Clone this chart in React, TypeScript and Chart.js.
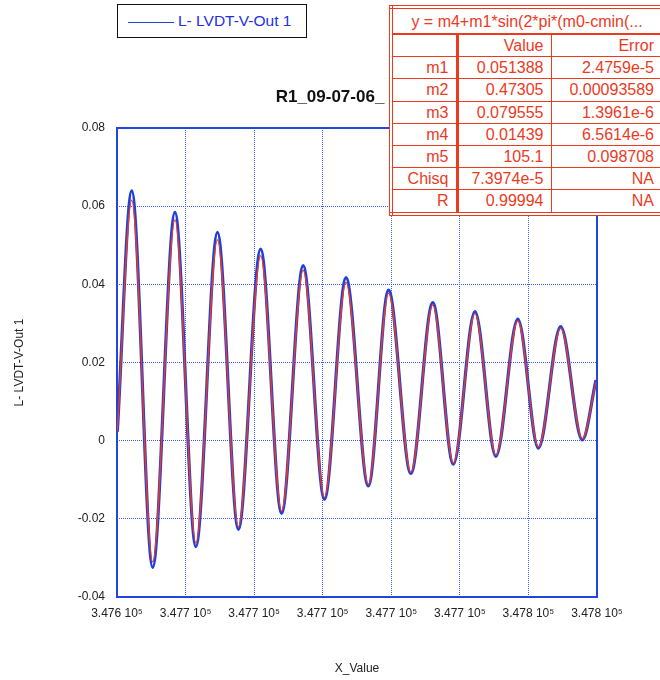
import React, { useEffect, useRef } from 'react';
import { Chart, registerables } from 'chart.js';

Chart.register(...registerables);

const FONT = '"Liberation Sans", Arial, Helvetica, sans-serif';

// ---- data ----
const TITLE = 'R1_09-07-06_';
const SERIES_NAME = 'L- LVDT-V-Out 1';
const X_TITLE = 'X_Value';
const Y_TITLE = 'L- LVDT-V-Out 1';

const X_TICKS = [347632, 347652, 347672, 347692, 347712, 347732, 347752, 347772];
const X_TICK_LABELS = ['3.476 10⁵', '3.477 10⁵', '3.477 10⁵', '3.477 10⁵', '3.477 10⁵', '3.477 10⁵', '3.478 10⁵', '3.478 10⁵'];
const Y_MIN = -0.04;
const Y_MAX = 0.08;
const Y_STEP = 0.02;

const DATA_X = [347632.1, 347636.3, 347642.4, 347648.9, 347655.0, 347661.3, 347667.4, 347673.9, 347680.0, 347686.3, 347692.5, 347698.8, 347705.3, 347711.2, 347717.7, 347724.1, 347730.1, 347736.4, 347742.5, 347748.9, 347754.9, 347761.4, 347767.7, 347771.7];
const DATA_Y = [0.0023, 0.0639, -0.0324, 0.0584, -0.0271, 0.0533, -0.0227, 0.049, -0.0186, 0.0448, -0.015, 0.0417, -0.0116, 0.0385, -0.0084, 0.0353, -0.006, 0.033, -0.004, 0.0311, -0.0019, 0.0292, 0.0002, 0.0155];
const FIT_Y = [0.0025, 0.0615, -0.031, 0.0565, -0.0262, 0.0514, -0.022, 0.0473, -0.018, 0.0436, -0.0145, 0.0405, -0.0112, 0.0377, -0.0081, 0.0347, -0.0057, 0.0325, -0.0037, 0.0306, -0.0016, 0.0288, 0.0005, 0.015];

const FORMULA = 'y = m4+m1*sin(2*pi*(m0-cmin(...';
const PARAM_NAMES = ['m1', 'm2', 'm3', 'm4', 'm5', 'Chisq', 'R'];
const PARAM_VALUES = ['0.051388', '0.47305', '0.079555', '0.01439', '105.1', '7.3974e-5', '0.99994'];
const PARAM_ERRORS = ['2.4759e-5', '0.00093589', '1.3961e-6', '6.5614e-6', '0.098708', 'NA', 'NA'];

const BLUE = '#1f3fe0';
const RED = '#ee3a1c';
const TABLE_RED = '#ec3a1e';
const GRID = '#3a5ae8';

const framePlugin = {
  id: 'frame',
  beforeDatasetsDraw(chart: any) {
    const { ctx, chartArea: a } = chart;
    ctx.save();
    ctx.strokeStyle = '#2444e2';
    ctx.lineWidth = 2;
    ctx.strokeRect(a.left, a.top, a.right - a.left, a.bottom - a.top);
    ctx.restore();
  },
};

export default function App() {
  const canvasRef = useRef<HTMLCanvasElement | null>(null);

  useEffect(() => {
    document.body.style.margin = '0';
    const canvas = canvasRef.current;
    if (!canvas) return;
    const chart = new Chart(canvas, {
      type: 'line',
      data: {
        datasets: [
          {
            label: SERIES_NAME,
            data: DATA_X.map((x, i) => ({ x, y: DATA_Y[i] })),
            borderColor: BLUE,
            borderWidth: 3.2,
            pointRadius: 0,
            cubicInterpolationMode: 'monotone',
            fill: false,
            order: 2,
          },
          {
            label: 'fit',
            data: DATA_X.map((x, i) => ({ x, y: FIT_Y[i] })),
            borderColor: RED,
            borderWidth: 1.4,
            pointRadius: 0,
            cubicInterpolationMode: 'monotone',
            fill: false,
            order: 1,
          },
        ],
      },
      options: {
        animation: false,
        responsive: true,
        maintainAspectRatio: false,
        layout: { padding: 0 },
        plugins: {
          legend: { display: false },
          tooltip: { enabled: false },
          title: {
            display: true,
            text: TITLE,
            color: '#111',
            font: { family: FONT, size: 17, weight: 'bold', lineHeight: 1.2 },
            padding: { top: 87, bottom: 20.6 },
          },
        },
        scales: {
          x: {
            type: 'linear',
            min: X_TICKS[0],
            max: X_TICKS[X_TICKS.length - 1],
            afterBuildTicks: (axis: any) => {
              axis.ticks = X_TICKS.map((v) => ({ value: v }));
            },
            afterFit: (s: any) => {
              s.height = 83;
            },
            grid: { color: GRID, lineWidth: 1, drawTicks: false },
            border: { display: false, dash: [1, 1] },
            ticks: {
              padding: 9,
              color: '#222',
              font: { family: FONT, size: 12 },
              maxRotation: 0,
              autoSkip: false,
              callback: (_v: any, i: number) => X_TICK_LABELS[i],
            },
            title: {
              display: true,
              text: X_TITLE,
              color: '#222',
              font: { family: FONT, size: 12 },
              padding: { top: 0, bottom: 4 },
            },
          },
          y: {
            type: 'linear',
            position: 'left',
            min: Y_MIN,
            max: Y_MAX,
            afterFit: (s: any) => {
              s.width = 117;
            },
            grid: { color: GRID, lineWidth: 1, drawTicks: false },
            border: { display: false, dash: [1, 1] },
            ticks: {
              stepSize: Y_STEP,
              padding: 12,
              color: '#222',
              font: { family: FONT, size: 12 },
              callback: (v: any) => String(+Number(v).toFixed(2)),
            },
            title: {
              display: true,
              text: Y_TITLE,
              color: '#222',
              font: { family: FONT, size: 12 },
              padding: { top: 12, bottom: 0 },
            },
          },
          yRight: {
            type: 'linear',
            position: 'right',
            min: Y_MIN,
            max: Y_MAX,
            afterFit: (s: any) => {
              s.width = 63;
            },
            grid: { display: false, drawOnChartArea: false, drawTicks: false },
            border: { display: false },
            ticks: { display: false },
          },
        },
      },
      plugins: [framePlugin],
    } as any);
    return () => chart.destroy();
  }, []);

  const cell: React.CSSProperties = {
    border: `1.5px solid ${TABLE_RED}`,
    textAlign: 'right',
    padding: '0 7px 0 0',
    height: 21.2,
    lineHeight: '19px',
    whiteSpace: 'nowrap',
    overflow: 'hidden',
  };

  return (
    <div style={{ position: 'relative', width: 660, height: 680, overflow: 'hidden', background: '#fff' }}>
      <canvas ref={canvasRef} style={{ position: 'absolute', left: 0, top: 0 }} />
      <div style={{ position: 'absolute', left: 0, top: 0, width: 660, height: 680, pointerEvents: 'none' }}>
        {/* legend */}
        <div
          style={{
            position: 'absolute',
            left: 117,
            top: 4,
            width: 188,
            height: 32,
            border: '1.6px solid #111',
            background: '#fff',
          }}
        >
          <div style={{ position: 'absolute', left: 10, top: 17, width: 46, height: 0, borderTop: `1.5px solid ${BLUE}` }} />
          <div
            style={{
              position: 'absolute',
              left: 60,
              top: 7,
              font: `15.5px ${FONT}`,
              color: '#1c30e6',
              whiteSpace: 'nowrap',
              lineHeight: '18px',
            }}
          >
            {SERIES_NAME}
          </div>
        </div>
        {/* fit table */}
        <table
          style={{
            position: 'absolute',
            left: 389,
            top: 5,
            width: 276,
            borderCollapse: 'collapse',
            tableLayout: 'fixed',
            border: `4px double ${TABLE_RED}`,
            background: '#fff',
            color: TABLE_RED,
            font: `16px ${FONT}`,
          }}
        >
          <colgroup>
            <col style={{ width: 66 }} />
            <col style={{ width: 94 }} />
            <col />
          </colgroup>
          <tbody>
            <tr>
              <td colSpan={3} style={{ ...cell, textAlign: 'center', height: 24, borderBottom: `2.5px solid ${TABLE_RED}`, padding: 0 }}>
                {FORMULA}
              </td>
            </tr>
            <tr>
              <td style={{ ...cell, borderRight: `3px solid ${TABLE_RED}` }}></td>
              <td style={cell}>Value</td>
              <td style={cell}>Error</td>
            </tr>
            {PARAM_NAMES.map((n, i) => (
              <tr key={n}>
                <td style={{ ...cell, borderRight: `3px solid ${TABLE_RED}` }}>{n}</td>
                <td style={cell}>{PARAM_VALUES[i]}</td>
                <td style={cell}>{PARAM_ERRORS[i]}</td>
              </tr>
            ))}
          </tbody>
        </table>
      </div>
    </div>
  );
}
